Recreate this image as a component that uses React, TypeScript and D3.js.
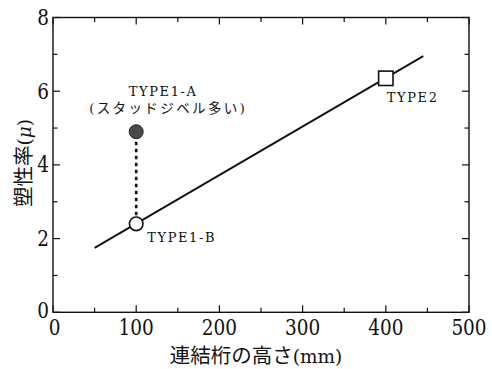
import React from "react";
import * as d3 from "d3";

// Tick values
const xMajorTicks = [0, 100, 200, 300, 400, 500];
const xMinorTicks = [50, 150, 250, 350, 450];
const yMajorTicks = [0, 2, 4, 6, 8];
const yMinorTicks = [1, 3, 5, 7];

// Regression line endpoints (girder height mm, ductility)
const fitHeights = [50, 445];
const fitDuctility = [1.75, 6.95];

// Test specimens
const specimenNames = ["TYPE1-A", "TYPE1-B", "TYPE2"];
const specimenHeights = [100, 100, 400];
const specimenDuctility = [4.9, 2.4, 6.35];

const W = 492;
const H = 369;
const left = 53;
const right = 469;
const top = 17.5;
const bottom = 312.3;

const serif = "'DejaVu Serif', serif";
const cjk = "'Noto Sans CJK JP', sans-serif";

// horizontal squeeze applied to the wide serif digits
const squeeze = 0.84;

export default function App() {
  const x = d3.scaleLinear().domain([0, 500]).range([left, right]);
  const y = d3.scaleLinear().domain([0, 8]).range([bottom, top]);

  const line = d3
    .line<number>()
    .x((d) => x(fitHeights[d]))
    .y((d) => y(fitDuctility[d]));

  const major = 7;
  const minor = 4.5;

  const pts = specimenNames.map((n, i) => ({
    name: n,
    px: x(specimenHeights[i]),
    py: y(specimenDuctility[i]),
  }));
  const a = pts[0];
  const b = pts[1];
  const c = pts[2];

  return (
    <svg
      width={W}
      height={H}
      style={{ position: "fixed", left: 0, top: 0, background: "#fff" }}
    >
      <rect x={0} y={0} width={W} height={H} fill="#fff" />

      {/* ticks, inward on all four sides */}
      <g stroke="#111" strokeWidth={1.2}>
        {xMajorTicks.map((t) => (
          <g key={"xM" + t}>
            <line x1={x(t)} x2={x(t)} y1={bottom} y2={bottom - major} />
            <line x1={x(t)} x2={x(t)} y1={top} y2={top + major} />
          </g>
        ))}
        {xMinorTicks.map((t) => (
          <g key={"xm" + t}>
            <line x1={x(t)} x2={x(t)} y1={bottom} y2={bottom - minor} />
            <line x1={x(t)} x2={x(t)} y1={top} y2={top + minor} />
          </g>
        ))}
        {yMajorTicks.map((t) => (
          <g key={"yM" + t}>
            <line x1={left} x2={left + major} y1={y(t)} y2={y(t)} />
            <line x1={right} x2={right - major} y1={y(t)} y2={y(t)} />
          </g>
        ))}
        {yMinorTicks.map((t) => (
          <g key={"ym" + t}>
            <line x1={left} x2={left + minor} y1={y(t)} y2={y(t)} />
            <line x1={right} x2={right - minor} y1={y(t)} y2={y(t)} />
          </g>
        ))}
      </g>

      {/* frame */}
      <rect
        x={left}
        y={top}
        width={right - left}
        height={bottom - top}
        fill="none"
        stroke="#111"
        strokeWidth={1.4}
      />

      {/* tick labels */}
      <g style={{ fontFamily: serif }} fontSize={22} fill="#111">
        {xMajorTicks.map((t) => (
          <text
            key={"xl" + t}
            transform={`translate(${x(t) + (t === 0 ? 1.5 : 0)}, 334.5) scale(${squeeze}, 1)`}
            textAnchor="middle"
          >
            {t}
          </text>
        ))}
        {yMajorTicks.map((t) => (
          <text
            key={"yl" + t}
            transform={`translate(${left - 4}, ${y(t) + (t === 0 ? 5.5 : 7.5)}) scale(${squeeze}, 1)`}
            textAnchor="end"
          >
            {t}
          </text>
        ))}
      </g>

      {/* axis titles */}
      <text x={256} y={363} textAnchor="middle" fontSize={20.5} fill="#111">
        <tspan style={{ fontFamily: cjk }}>連結桁の高さ</tspan>
        <tspan style={{ fontFamily: serif }} fontSize={18.5}>(mm)</tspan>
      </text>
      <text
        transform={`translate(31, 163) rotate(-90)`}
        textAnchor="middle"
        fontSize={20.5}
        fill="#111"
      >
        <tspan style={{ fontFamily: cjk }}>塑性率</tspan>
        <tspan style={{ fontFamily: serif }} fontSize={18.5}>(</tspan>
        <tspan style={{ fontFamily: serif }} fontSize={18.5} fontStyle="italic">μ</tspan>
        <tspan style={{ fontFamily: serif }} fontSize={18.5}>)</tspan>
      </text>

      {/* regression line */}
      <path d={line([0, 1]) ?? ""} fill="none" stroke="#111" strokeWidth={1.9} />

      {/* dotted link between TYPE1-A and TYPE1-B */}
      <line
        x1={a.px}
        x2={b.px}
        y1={a.py + 10}
        y2={b.py - 8}
        stroke="#111"
        strokeWidth={2.6}
        strokeDasharray="3.5 3.5"
      />

      {/* markers */}
      <circle cx={a.px} cy={a.py} r={7} fill="#4a4a4a" stroke="#222" strokeWidth={1} />
      <circle cx={b.px} cy={b.py} r={6.8} fill="#fff" stroke="#111" strokeWidth={1.6} />
      <rect
        x={c.px - 7.2}
        y={c.py - 7.2}
        width={14.4}
        height={14.4}
        fill="#fff"
        stroke="#111"
        strokeWidth={1.6}
      />

      {/* specimen labels */}
      <g fontSize={13} fill="#111" letterSpacing={1.6}>
        <text x={a.px + 27} y={95.5} textAnchor="middle" style={{ fontFamily: serif }}>
          {a.name}
        </text>
        <text x={a.px + 32} y={113} textAnchor="middle" letterSpacing={2.4}>
          <tspan style={{ fontFamily: serif }}>(</tspan>
          <tspan style={{ fontFamily: cjk }} fontSize={13.5}>スタッドジベル多い</tspan>
          <tspan style={{ fontFamily: serif }}>)</tspan>
        </text>
        <text x={b.px + 11} y={242} textAnchor="start" style={{ fontFamily: serif }}>
          {b.name}
        </text>
        <text x={c.px + 1} y={102} textAnchor="start" style={{ fontFamily: serif }}>
          {c.name}
        </text>
      </g>
    </svg>
  );
}
